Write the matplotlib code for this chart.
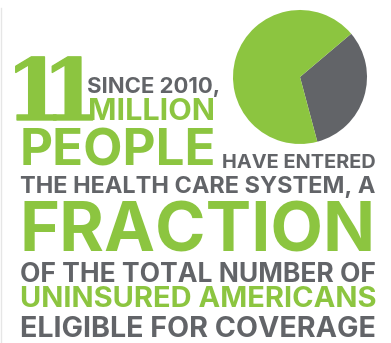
import matplotlib
matplotlib.use("Agg")
import matplotlib.pyplot as plt
import matplotlib.patheffects as pe

# pie: share of eligible uninsured who have entered vs the rest
pie_labels = ["Entered", "Remaining"]
pie_values = [32, 68]

GREEN = "#8cc540"
GRAY = "#626468"

# text lines of the infographic
lines = ["SINCE 2010,", "MILLION", "PEOPLE", "HAVE ENTERED",
         "THE HEALTH CARE SYSTEM, A", "FRACTION", "OF THE TOTAL NUMBER OF",
         "UNINSURED AMERICANS", "ELIGIBLE FOR COVERAGE"]
line_colors = [GRAY, GREEN, GREEN, GRAY, GRAY, GREEN, GRAY, GREEN, GRAY]
big_number = "11"

# layout in pixels: left, right, baseline
layout = [(87, 220, 93), (88, 215, 120), (20, 215, 165), (222, 375, 168),
          (20, 375, 193), (20, 375, 252), (20, 375, 282), (20, 375, 307),
          (20, 375, 337)]

W, H = 391, 343
fig = plt.figure(figsize=(W / 100, H / 100), dpi=100)
fig.patch.set_facecolor("white")

# overlay axes in pixel units
ax = fig.add_axes([0, 0, 1, 1])
ax.set_xlim(0, W)
ax.set_ylim(H, 0)
ax.axis("off")

# faint left border
ax.plot([1, 1], [8, H], color="#e6e6e6", lw=1)

# pie axes, center (300, 77), radius 67
cx, cy, r = 300, 77, 67
pax = fig.add_axes([(cx - r) / W, (H - cy - r) / H, 2 * r / W, 2 * r / H])
pax.pie(pie_values, colors=[GRAY, GREEN], startangle=-75, counterclock=True,
        wedgeprops=dict(linewidth=0))
pax.set_xlim(-1, 1)
pax.set_ylim(-1, 1)
pax.set_aspect("auto")

renderer = fig.canvas.get_renderer()


def fit_text(s, x0, x1, base, color, family="Inter", weight="bold"):
    t = ax.text(x0, base, s, color=color, fontsize=10, family=family,
                weight=weight, ha="left", va="baseline")
    w = t.get_window_extent(renderer).width
    t.set_fontsize(10 * (x1 - x0) / w)
    return t


for s, c, (x0, x1, b) in zip(lines, line_colors, layout):
    fit_text(s, x0, x1, b, c)

# the big "11" in a slab style, digit height about 63 px, thickened
ones_x = [(19, 51), (56, 87)]
for ch, (x0, x1) in zip(big_number, ones_x):
    ax.text((x0 + x1) / 2, 120, ch, color=GREEN, fontsize=62 / 0.729 * 0.72,
            family="DejaVu Serif", weight="bold", ha="center", va="baseline",
            path_effects=[pe.withStroke(linewidth=1.0, foreground=GREEN)])

fig.savefig("out.png", dpi=100)
